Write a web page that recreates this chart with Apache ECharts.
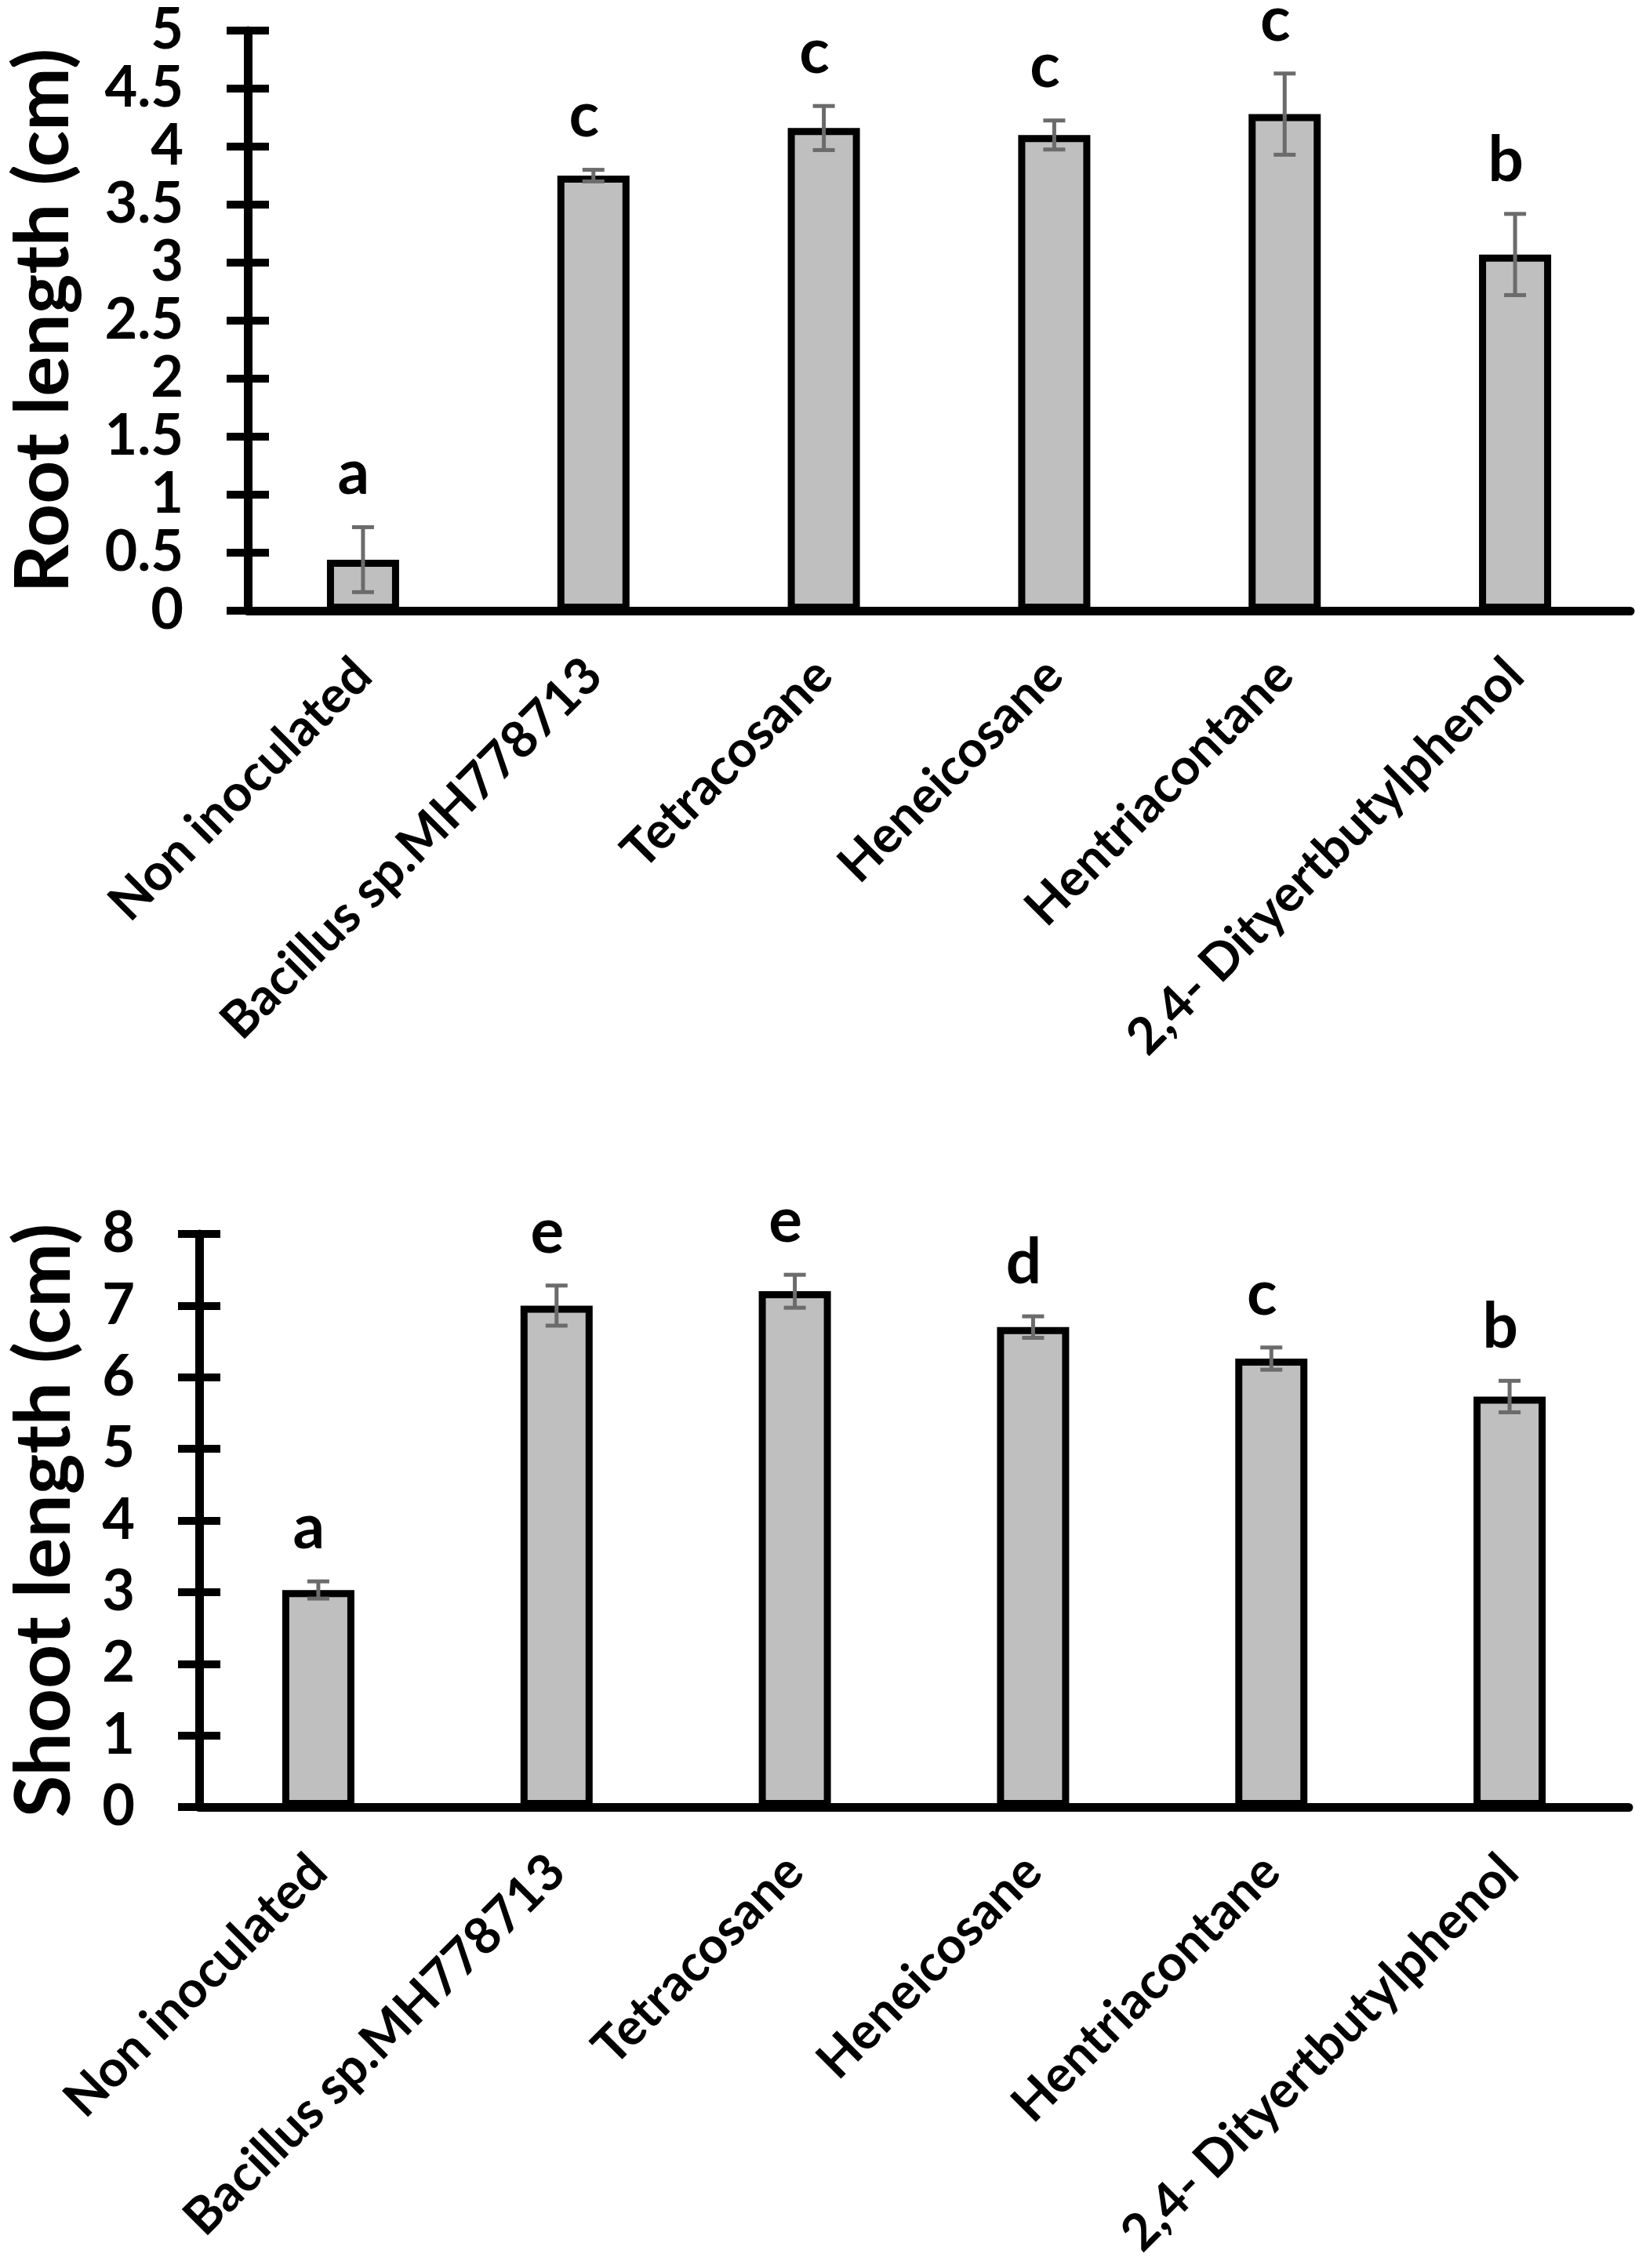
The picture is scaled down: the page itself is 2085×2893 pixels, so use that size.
<!DOCTYPE html>
<html>
<head>
<meta charset="utf-8">
<script src="https://cdn.jsdelivr.net/npm/echarts@6/dist/echarts.min.js"></script>
<style>
html,body{margin:0;padding:0;background:#fff;}
#c{width:2085px;height:2893px;}
</style>
</head>
<body>
<div id="c"></div>
<script>
var categories = ['Non inoculated', 'Bacillus sp.MH778713', 'Tetracosane', 'Heneicosane', 'Hentriacontane', '2,4- Dityertbutylphenol'];
var rootValues = [0.44, 3.75, 4.16, 4.10, 4.28, 3.07];
var rootErrors = [0.28, 0.05, 0.19, 0.125, 0.35, 0.35];
var rootLetters = ['a', 'c', 'c', 'c', 'c', 'b'];
var shootValues = [3.03, 7.00, 7.20, 6.70, 6.26, 5.73];
var shootErrors = [0.12, 0.28, 0.23, 0.15, 0.155, 0.22];
var shootLetters = ['a', 'e', 'e', 'd', 'c', 'b'];

var FONT = 'Lato';
var chart = echarts.init(document.getElementById('c'), null, {renderer: 'canvas'});

function errData(vals, errs, letters) {
  return vals.map(function (v, i) { return [i, v, errs[i], letters[i]]; });
}

function errRender(letters) {
  return function (params, api) {
    var i = api.value(0), v = api.value(1), e = api.value(2);
    var top = api.coord([i, v + e]);
    var bot = api.coord([i, v - e]);
    var cap = 14;
    var st = {stroke: '#6b6b6b', lineWidth: 5};
    return {
      type: 'group',
      children: [
        {type: 'line', shape: {x1: top[0], y1: top[1], x2: bot[0], y2: bot[1]}, style: st},
        {type: 'line', shape: {x1: top[0] - cap, y1: top[1], x2: top[0] + cap, y2: top[1]}, style: st},
        {type: 'line', shape: {x1: bot[0] - cap, y1: bot[1], x2: bot[0] + cap, y2: bot[1]}, style: st},
        {type: 'text', style: {text: letters[params.dataIndex], x: top[0] - 12, y: top[1] - 28,
          textAlign: 'center', textVerticalAlign: 'bottom',
          font: 'bold 80px ' + FONT, fill: '#000'}}
      ]
    };
  };
}

function xAxisCfg(gi) {
  return {
    type: 'category', gridIndex: gi, data: categories,
    axisLine: {show: true, lineStyle: {color: '#000', width: 11}},
    axisTick: {show: false},
    axisLabel: {rotate: 45, interval: 0, margin: 72, color: '#000',
      fontFamily: FONT, fontWeight: 'bold', fontSize: 65}
  };
}

function yAxisCfg(gi, max, interval, name, gap, nameSize) {
  return [{
    type: 'value', gridIndex: gi, min: 0, max: max, interval: interval,
    name: name, nameLocation: 'middle', nameGap: gap,
    nameTextStyle: {color: '#000', fontFamily: FONT, fontWeight: 'bold', fontSize: nameSize},
    axisLine: {show: true, lineStyle: {color: '#000', width: 11}},
    axisTick: {show: true, length: 27, lineStyle: {color: '#000', width: 10}},
    axisLabel: {margin: 82, color: '#000', fontFamily: FONT, fontWeight: 'bold', fontSize: 72},
    splitLine: {show: false}
  }, {
    type: 'value', gridIndex: gi, min: 0, max: max, interval: interval, position: 'left',
    axisLine: {show: false},
    axisTick: {show: true, inside: true, length: 27, lineStyle: {color: '#000', width: 10}},
    axisLabel: {show: false},
    splitLine: {show: false}
  }];
}

var yAxes = yAxisCfg(0, 5, 0.5, 'Root length (cm)', 212, 96).concat(yAxisCfg(1, 8, 1, 'Shoot length (cm)', 148, 98));

chart.setOption({
  animation: false,
  backgroundColor: '#fff',
  grid: [
    {left: 312, right: 6, top: 39, height: 740},
    {left: 247, right: 8, top: 1574, height: 731}
  ],
  xAxis: [xAxisCfg(0), xAxisCfg(1)],
  yAxis: yAxes,
  series: [
    {type: 'bar', xAxisIndex: 0, yAxisIndex: 0, data: rootValues, barWidth: 92,
      itemStyle: {color: '#bfbfbf', borderColor: '#000', borderWidth: 9}, z: 2},
    {type: 'custom', xAxisIndex: 0, yAxisIndex: 0, data: errData(rootValues, rootErrors, rootLetters),
      encode: {x: 0, y: 1}, renderItem: errRender(rootLetters), z: 5},
    {type: 'bar', xAxisIndex: 1, yAxisIndex: 2, data: shootValues, barWidth: 92,
      itemStyle: {color: '#bfbfbf', borderColor: '#000', borderWidth: 9}, z: 2},
    {type: 'custom', xAxisIndex: 1, yAxisIndex: 2, data: errData(shootValues, shootErrors, shootLetters),
      encode: {x: 0, y: 1}, renderItem: errRender(shootLetters), z: 5}
  ]
});
</script>
</body>
</html>
